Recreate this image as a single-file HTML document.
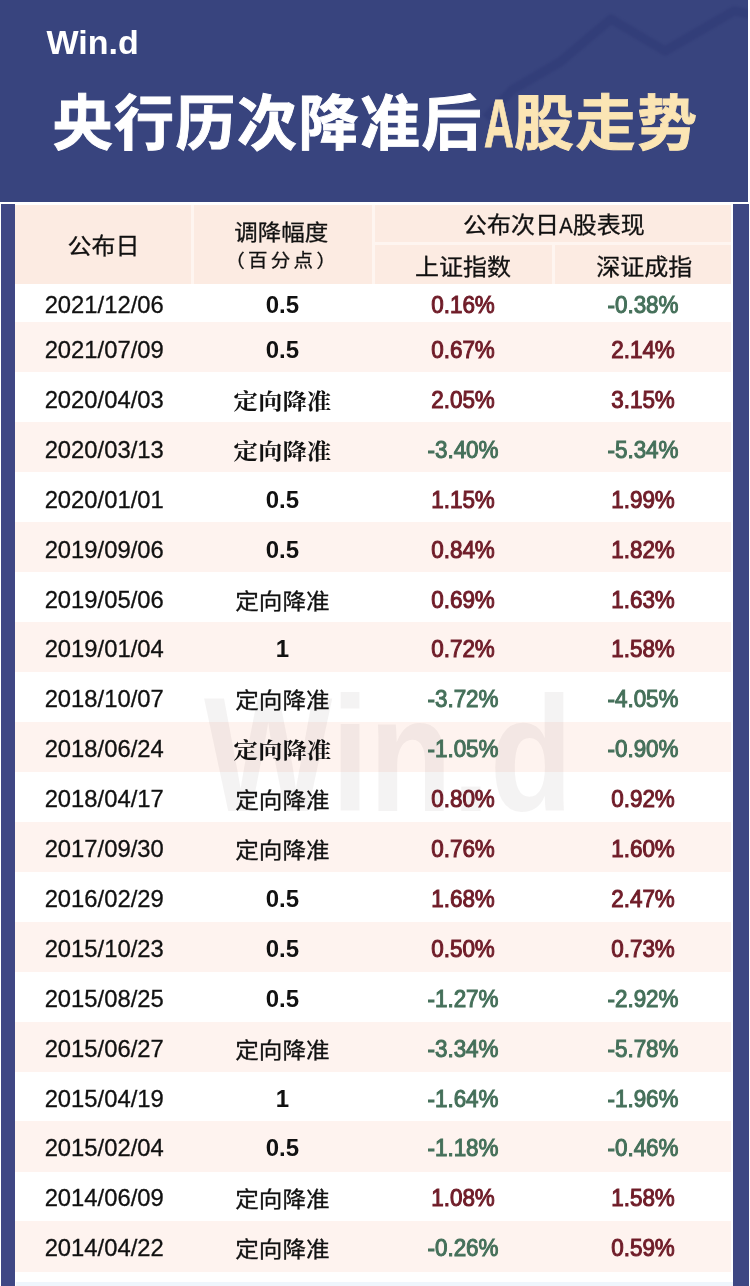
<!DOCTYPE html>
<html lang="zh-CN"><head><meta charset="utf-8"><title>央行历次降准后A股走势</title>
<style>
*{margin:0;padding:0;box-sizing:border-box}
html,body{width:750px;height:1286px;background:#fff;overflow:hidden}
body{position:relative;font-family:"Liberation Sans","Noto Sans CJK SC",sans-serif;color:#000}
.abs{position:absolute}
#hdr{left:0;top:0;width:748px;height:202px;background:#38447e;overflow:hidden}
#lbar{left:1px;top:204px;width:14px;height:1082px;background:#3f4784}
#rbar{left:733px;top:204px;width:16px;height:1082px;background:#3e4783}
#thead{left:15px;top:204.5px;width:716px;height:79.5px;background:#fcebe2}
.band{left:15px;width:716px;height:50.3px;background:#fef3ef}
.t{position:absolute;white-space:nowrap;transform:translate(-50%,-50%);line-height:1}
.t.h{transform:translate(-50%,calc(-50% + 2px)) scaleY(.93)}
.date{font-size:23.8px;left:104.2px;color:#111;-webkit-text-stroke:0.3px #111}
.c2{left:282.4px;font-weight:700;font-size:24px;color:#111;transform:translate(-50%,-50%)}
.c2.cn{font-weight:400;font-size:23.6px;font-family:"Liberation Sans","Noto Sans CJK SC",sans-serif;-webkit-text-stroke:0.35px #111;transform:translate(-50%,-41%) scaleY(.9)}
.c2.cn.b{font-weight:700;font-size:24.4px;font-family:"Liberation Serif","Noto Serif CJK SC",serif;-webkit-text-stroke:0;transform:translate(-50%,-40.3%) scaleY(.9)}
.c3{left:462.8px}
.c4{left:643px}
.c3,.c4{font-weight:400;-webkit-text-stroke:1.05px currentColor;font-size:24px;transform:translate(-50%,-50%) scaleX(.935)}
.up{color:#6f1c28}
.dn{color:#45705a}
.h{font-family:"Liberation Sans","Noto Sans CJK SC",sans-serif;font-size:24px;color:#111;-webkit-text-stroke:0.3px #111}
#title{left:52.5px;top:92.3px;font-family:"Liberation Sans","Noto Sans CJK SC",sans-serif;font-weight:700;font-size:60px;line-height:60px;letter-spacing:1.5px;color:#fff;white-space:nowrap;-webkit-text-stroke:0.9px currentColor}
#title .y{color:#fbe5b4}
#title .A{display:inline-block;width:31px;height:60px;line-height:60px;vertical-align:baseline;margin-left:.5px;margin-right:-.5px;font-size:69px;font-weight:700;transform:translateY(2px) scaleX(.6);transform-origin:0 50%;letter-spacing:0}
#logo{left:46.5px;top:25px;font-weight:700;font-size:34px;line-height:34px;color:#fff;white-space:nowrap}
#wm{left:204px;top:687.4px;font-weight:700;font-size:136px;line-height:136px;color:rgba(110,100,100,0.075);white-space:nowrap;transform:scaleY(1.2);transform-origin:0 50%}
</style></head>
<body>
<div id="hdr" class="abs"><svg class="abs" style="left:0;top:0" width="748" height="202" viewBox="0 0 748 202"><polyline points="486,118 512,90 560,62 611,19 665,51 734,11 750,14" fill="none" stroke="#2a3470" stroke-opacity="0.38" stroke-width="9" stroke-linejoin="round" style="filter:blur(1.2px)"/></svg>
<div id="logo" class="abs">Win.d</div>
<div id="title" class="abs">央行历次降准后<span class="y"><span class="A">A</span>股走势</span></div></div>
<div id="lbar" class="abs"></div><div id="rbar" class="abs"></div>
<div id="thead" class="abs"></div>
<div class="abs band" style="top:322.2px"></div>
<div class="abs band" style="top:422.1px"></div>
<div class="abs band" style="top:522.0px"></div>
<div class="abs band" style="top:621.9px"></div>
<div class="abs band" style="top:721.8px"></div>
<div class="abs band" style="top:821.7px"></div>
<div class="abs band" style="top:921.6px"></div>
<div class="abs band" style="top:1021.5px"></div>
<div class="abs band" style="top:1121.4px"></div>
<div class="abs band" style="top:1221.3px"></div>
<div id="wm" class="abs">Win.d</div>
<div class="abs" style="left:190.5px;top:205px;width:3px;height:79px;background:#fef5f0"></div>
<div class="abs" style="left:372px;top:205px;width:3px;height:79px;background:#fef5f0"></div>
<div class="abs" style="left:551.7px;top:245px;width:3px;height:39px;background:#fef5f0"></div>
<div class="abs" style="left:374.5px;top:242.3px;width:356.5px;height:3px;background:#fef5f0"></div>
<div class="t h" style="left:103.5px;top:244.5px">公布日</div>
<div class="t h" style="left:281.2px;top:231.1px;font-size:23.5px">调降幅度</div>
<div class="t h" style="left:282.2px;top:258.5px;font-size:19.5px;letter-spacing:3.3px">（百分点）</div>
<div class="t h" style="left:553.8px;top:223.5px">公布次日<span style="display:inline-block;transform:scaleX(.84);margin:0 -1.1px">A</span>股表现</div>
<div class="t h" style="left:463px;top:265.9px">上证指数</div>
<div class="t h" style="left:644.3px;top:265.9px">深证成指</div>
<div class="t date" style="top:305.0px">2021/12/06</div>
<div class="t c2" style="top:305.0px">0.5</div>
<div class="t c3 up" style="top:305.0px">0.16%</div>
<div class="t c4 dn" style="top:305.0px">-0.38%</div>
<div class="t date" style="top:350.1px">2021/07/09</div>
<div class="t c2" style="top:350.1px">0.5</div>
<div class="t c3 up" style="top:350.1px">0.67%</div>
<div class="t c4 up" style="top:350.1px">2.14%</div>
<div class="t date" style="top:400.0px">2020/04/03</div>
<div class="t c2 cn b" style="top:400.0px">定向降准</div>
<div class="t c3 up" style="top:400.0px">2.05%</div>
<div class="t c4 up" style="top:400.0px">3.15%</div>
<div class="t date" style="top:449.9px">2020/03/13</div>
<div class="t c2 cn b" style="top:449.9px">定向降准</div>
<div class="t c3 dn" style="top:449.9px">-3.40%</div>
<div class="t c4 dn" style="top:449.9px">-5.34%</div>
<div class="t date" style="top:499.8px">2020/01/01</div>
<div class="t c2" style="top:499.8px">0.5</div>
<div class="t c3 up" style="top:499.8px">1.15%</div>
<div class="t c4 up" style="top:499.8px">1.99%</div>
<div class="t date" style="top:549.7px">2019/09/06</div>
<div class="t c2" style="top:549.7px">0.5</div>
<div class="t c3 up" style="top:549.7px">0.84%</div>
<div class="t c4 up" style="top:549.7px">1.82%</div>
<div class="t date" style="top:599.5px">2019/05/06</div>
<div class="t c2 cn" style="top:599.5px">定向降准</div>
<div class="t c3 up" style="top:599.5px">0.69%</div>
<div class="t c4 up" style="top:599.5px">1.63%</div>
<div class="t date" style="top:649.4px">2019/01/04</div>
<div class="t c2" style="top:649.4px">1</div>
<div class="t c3 up" style="top:649.4px">0.72%</div>
<div class="t c4 up" style="top:649.4px">1.58%</div>
<div class="t date" style="top:699.3px">2018/10/07</div>
<div class="t c2 cn" style="top:699.3px">定向降准</div>
<div class="t c3 dn" style="top:699.3px">-3.72%</div>
<div class="t c4 dn" style="top:699.3px">-4.05%</div>
<div class="t date" style="top:749.2px">2018/06/24</div>
<div class="t c2 cn b" style="top:749.2px">定向降准</div>
<div class="t c3 dn" style="top:749.2px">-1.05%</div>
<div class="t c4 dn" style="top:749.2px">-0.90%</div>
<div class="t date" style="top:799.1px">2018/04/17</div>
<div class="t c2 cn" style="top:799.1px">定向降准</div>
<div class="t c3 up" style="top:799.1px">0.80%</div>
<div class="t c4 up" style="top:799.1px">0.92%</div>
<div class="t date" style="top:849.0px">2017/09/30</div>
<div class="t c2 cn" style="top:849.0px">定向降准</div>
<div class="t c3 up" style="top:849.0px">0.76%</div>
<div class="t c4 up" style="top:849.0px">1.60%</div>
<div class="t date" style="top:898.9px">2016/02/29</div>
<div class="t c2" style="top:898.9px">0.5</div>
<div class="t c3 up" style="top:898.9px">1.68%</div>
<div class="t c4 up" style="top:898.9px">2.47%</div>
<div class="t date" style="top:948.8px">2015/10/23</div>
<div class="t c2" style="top:948.8px">0.5</div>
<div class="t c3 up" style="top:948.8px">0.50%</div>
<div class="t c4 up" style="top:948.8px">0.73%</div>
<div class="t date" style="top:998.7px">2015/08/25</div>
<div class="t c2" style="top:998.7px">0.5</div>
<div class="t c3 dn" style="top:998.7px">-1.27%</div>
<div class="t c4 dn" style="top:998.7px">-2.92%</div>
<div class="t date" style="top:1048.6px">2015/06/27</div>
<div class="t c2 cn" style="top:1048.6px">定向降准</div>
<div class="t c3 dn" style="top:1048.6px">-3.34%</div>
<div class="t c4 dn" style="top:1048.6px">-5.78%</div>
<div class="t date" style="top:1098.5px">2015/04/19</div>
<div class="t c2" style="top:1098.5px">1</div>
<div class="t c3 dn" style="top:1098.5px">-1.64%</div>
<div class="t c4 dn" style="top:1098.5px">-1.96%</div>
<div class="t date" style="top:1148.3px">2015/02/04</div>
<div class="t c2" style="top:1148.3px">0.5</div>
<div class="t c3 dn" style="top:1148.3px">-1.18%</div>
<div class="t c4 dn" style="top:1148.3px">-0.46%</div>
<div class="t date" style="top:1198.2px">2014/06/09</div>
<div class="t c2 cn" style="top:1198.2px">定向降准</div>
<div class="t c3 up" style="top:1198.2px">1.08%</div>
<div class="t c4 up" style="top:1198.2px">1.58%</div>
<div class="t date" style="top:1248.1px">2014/04/22</div>
<div class="t c2 cn" style="top:1248.1px">定向降准</div>
<div class="t c3 dn" style="top:1248.1px">-0.26%</div>
<div class="t c4 up" style="top:1248.1px">0.59%</div>
<div class="abs" style="left:16px;top:1282px;width:717px;height:4px;background:#eef5fc"></div>
</body></html>
